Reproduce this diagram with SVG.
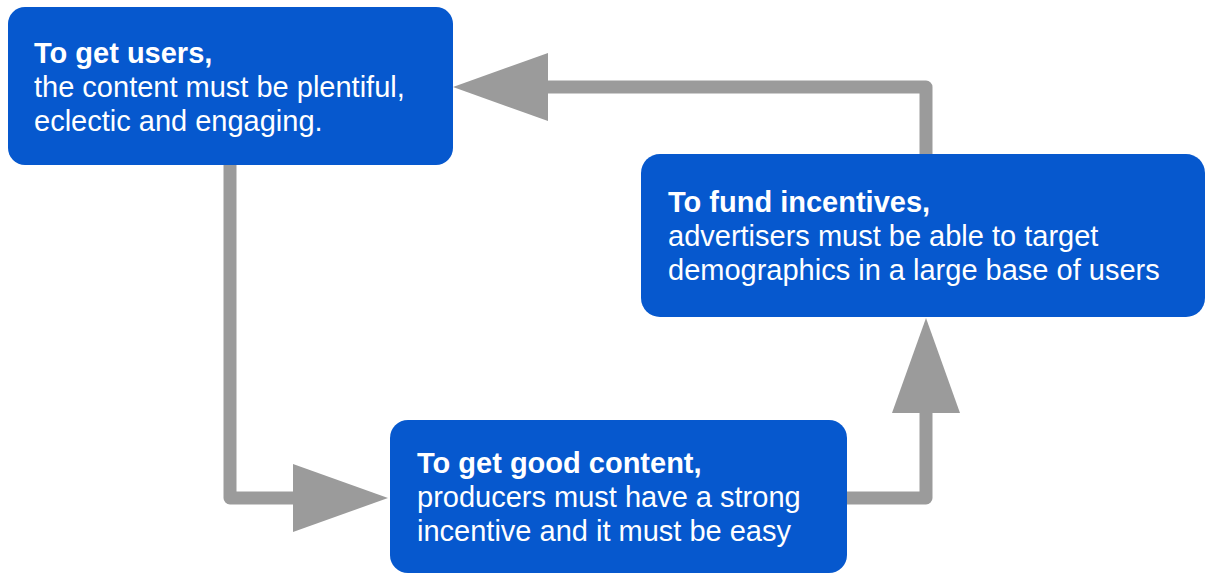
<svg xmlns="http://www.w3.org/2000/svg" width="1206" height="574" viewBox="0 0 1206 574">
  <style>
    .box { fill: #0658ce; }
    .label { font-family: "Liberation Sans", Arial, sans-serif; font-size: 29px; fill: #ffffff; }
    .label .head { font-weight: bold; }
    .link { fill: none; stroke: #9b9b9b; stroke-width: 13; stroke-linejoin: round; }
  </style>
  <defs>
    <marker id="head" viewBox="0 0 95 68" markerWidth="95" markerHeight="68" refX="0" refY="34" orient="auto" markerUnits="userSpaceOnUse">
      <path d="M0,0 L95,34 L0,68 Z" fill="#9b9b9b"/>
    </marker>
  </defs>
  <rect width="1206" height="574" fill="#ffffff"/>

  <!-- loop connectors -->
  <g id="connectors">
    <path class="link" d="M230,165 V498 H293" marker-end="url(#head)"/>
    <path class="link" d="M847,498 H926 V413" marker-end="url(#head)"/>
    <path class="link" d="M926,154 V87 H548" marker-end="url(#head)"/>
  </g>

  <g id="users">
    <rect class="box" x="8" y="7" width="445" height="158" rx="17"/>
    <text class="label">
      <tspan class="head" x="34" y="63">To get users,</tspan>
      <tspan x="34" y="97">the content must be plentiful,</tspan>
      <tspan x="34" y="131">eclectic and engaging.</tspan>
    </text>
  </g>

  <g id="incentives">
    <rect class="box" x="641" y="154" width="564" height="163" rx="19"/>
    <text class="label">
      <tspan class="head" x="668" y="212">To fund incentives,</tspan>
      <tspan x="668" y="246">advertisers must be able to target</tspan>
      <tspan x="668" y="280">demographics in a large base of users</tspan>
    </text>
  </g>

  <g id="content">
    <rect class="box" x="390" y="420" width="457" height="153" rx="18"/>
    <text class="label">
      <tspan class="head" x="417" y="473">To get good content,</tspan>
      <tspan x="417" y="507">producers must have a strong</tspan>
      <tspan x="417" y="541">incentive and it must be easy</tspan>
    </text>
  </g>
</svg>
